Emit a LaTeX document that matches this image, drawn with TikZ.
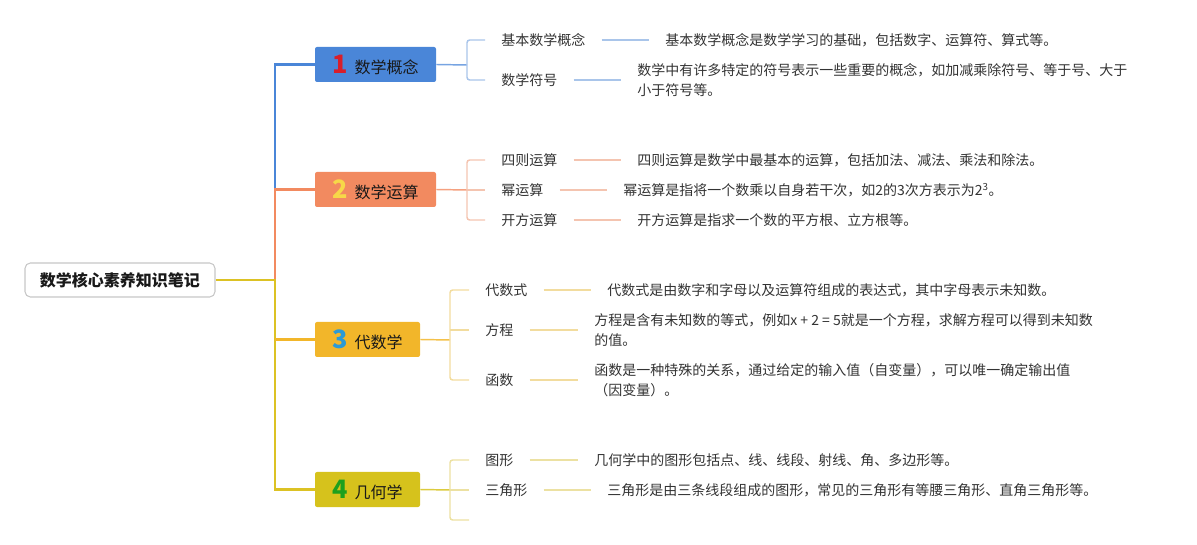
\documentclass[tikz,border=0pt]{standalone}
\usepackage{fontspec}
\setmainfont{Noto Sans CJK SC}
\definecolor{cBlue}{HTML}{4A86D8}
\definecolor{cBlueL}{HTML}{A9C5EA}
\definecolor{cOr}{HTML}{F28A60}
\definecolor{cOrL}{HTML}{F4C4B0}
\definecolor{cYe}{HTML}{F2B62A}
\definecolor{cYeL}{HTML}{F2DC9E}
\definecolor{cOl}{HTML}{D6C21C}
\definecolor{cOlL}{HTML}{ECE1A2}
\definecolor{cTrunk}{HTML}{DCC224}
\definecolor{nRed}{HTML}{D81E2A}
\definecolor{nYel}{HTML}{F7D848}
\definecolor{nBlu}{HTML}{2B9AD6}
\definecolor{nGrn}{HTML}{1DA01D}
\definecolor{txt}{HTML}{333333}
\newcommand{\bignum}[2]{{\fontsize{19}{19}\selectfont\bfseries\color{#1}#2}\hspace{5pt}}
\begin{document}
\begin{tikzpicture}[x=0.75pt,y=-0.75pt,
  desc/.style={inner sep=0pt, anchor=west, font=\fontsize{10.5}{15}\selectfont, align=left, text=txt},
  lab/.style={desc},
  topic/.style={minimum height=26.25pt, inner sep=0pt, rounded corners=1.5pt, font=\fontsize{12}{14}\selectfont, text=black!90},
  main/.style={line width=2.2pt},
  sub/.style={line width=1.1pt, rounded corners=2pt}]
\useasboundingbox (0,0) rectangle (1197,545);
% root
\node[draw=black!22, fill=white, rounded corners=4pt, line width=0.8pt, minimum width=142.5pt, minimum height=25.5pt, inner sep=0pt, font=\fontsize{12}{14}\selectfont\bfseries, text=black!90] (root) at (120,280) {数学核心素养知识笔记};
% topics
\node[topic, fill=cBlue, minimum width=90.75pt] (b1) at (375.5,64.5) {\bignum{nRed}{1}数学概念};
\node[topic, fill=cOr, minimum width=90.75pt] (b2) at (375.5,189.5) {\bignum{nYel}{2}数学运算};
\node[topic, fill=cYe, minimum width=78.75pt] (b3) at (367.5,339.5) {\bignum{nBlu}{3}代数学};
\node[topic, fill=cOl, minimum width=78.75pt] (b4) at (367.5,489.5) {\bignum{nGrn}{4}几何学};
\coordinate (j) at (275,280);
% trunk
\draw[main, cBlue] (j |- b2.west) |- (b1.west);
\draw[main, cOr] (j) |- (b2.west);
\draw[main, cTrunk] (root.east) -- (j) |- (b4.west);
\draw[main, cYe] (j |- b3.west) -- (b3.west);
% labels
\node[lab] (l11) at (501,40) {基本数学概念};
\node[lab] (l12) at (501,80) {数学符号};
\node[lab] (l21) at (501,160) {四则运算};
\node[lab] (l22) at (501,190) {幂运算};
\node[lab] (l23) at (501,220) {开方运算};
\node[lab] (l31) at (485,290) {代数式};
\node[lab] (l32) at (485,330) {方程};
\node[lab] (l33) at (485,380) {函数};
\node[lab] (l41) at (485,460) {图形};
\node[lab] (l42) at (485,490) {三角形};
\coordinate (l43) at (485,520);
% descriptions
\node[desc] (d11) at (665,40) {基本数学概念是数学学习的基础，包括数字、运算符、算式等。};
\node[desc] (d12) at (637,80) {数学中有许多特定的符号表示一些重要的概念，如加减乘除符号、等于号、大于\\小于符号等。};
\node[desc] (d21) at (637,160) {四则运算是数学中最基本的运算，包括加法、减法、乘法和除法。};
\node[desc] (d22) at (623,190) {幂运算是指将一个数乘以自身若干次，如2的3次方表示为2\textsuperscript{3}。};
\node[desc] (d23) at (637,220) {开方运算是指求一个数的平方根、立方根等。};
\node[desc] (d31) at (607,290) {代数式是由数字和字母以及运算符组成的表达式，其中字母表示未知数。};
\node[desc] (d32) at (594,330) {方程是含有未知数的等式，例如x + 2 = 5就是一个方程，求解方程可以得到未知数\\的值。};
\node[desc] (d33) at (594,380) {函数是一种特殊的关系，通过给定的输入值（自变量），可以唯一确定输出值\\（因变量）。};
\node[desc] (d41) at (594,460) {几何学中的图形包括点、线、线段、射线、角、多边形等。};
\node[desc] (d42) at (607,490) {三角形是由三条线段组成的图形，常见的三角形有等腰三角形、直角三角形等。};
% group 1
\coordinate (k1) at (467,65);
\draw[sub, cBlue!75] (b1.east) -- (k1);
\draw[sub, cBlueL] ([xshift=-12pt]l11.west) -| (k1) |- ([xshift=-12pt]l12.west);
\draw[sub, cBlueL] ([xshift=12pt]l11.east) -- ([xshift=-12pt]d11.west);
\draw[sub, cBlueL] ([xshift=12pt]l12.east) -- ([xshift=-12pt]d12.west);
% group 2
\coordinate (k2) at (467,190);
\draw[sub, cOr!80] (b2.east) -- (k2);
\draw[sub, cOrL] ([xshift=-12pt]l21.west) -| (k2) |- ([xshift=-12pt]l23.west);
\draw[sub, cOrL] (k2) -- ([xshift=-12pt]l22.west);
\draw[sub, cOrL] ([xshift=12pt]l21.east) -- ([xshift=-12pt]d21.west);
\draw[sub, cOrL] ([xshift=12pt]l22.east) -- ([xshift=-12pt]d22.west);
\draw[sub, cOrL] ([xshift=12pt]l23.east) -- ([xshift=-12pt]d23.west);
% group 3
\coordinate (k3) at (450,340);
\draw[sub, cYe!85] (b3.east) -- (k3);
\draw[sub, cYeL] ([xshift=-12pt]l31.west) -| (k3) |- ([xshift=-12pt]l33.west);
\draw[sub, cYeL] (k3 |- l32.west) -- ([xshift=-12pt]l32.west);
\draw[sub, cYeL] ([xshift=12pt]l31.east) -- ([xshift=-12pt]d31.west);
\draw[sub, cYeL] ([xshift=12pt]l32.east) -- ([xshift=-12pt]d32.west);
\draw[sub, cYeL] ([xshift=12pt]l33.east) -- ([xshift=-12pt]d33.west);
% group 4
\coordinate (k4) at (450,490);
\draw[sub, cOl!85] (b4.east) -- (k4);
\draw[sub, cOlL] ([xshift=-12pt]l41.west) -| (k4) |- ([xshift=-12pt]l43);
\draw[sub, cOlL] (k4) -- ([xshift=-12pt]l42.west);
\draw[sub, cOlL] ([xshift=12pt]l41.east) -- ([xshift=-12pt]d41.west);
\draw[sub, cOlL] ([xshift=12pt]l42.east) -- ([xshift=-12pt]d42.west);
\end{tikzpicture}
\end{document}
